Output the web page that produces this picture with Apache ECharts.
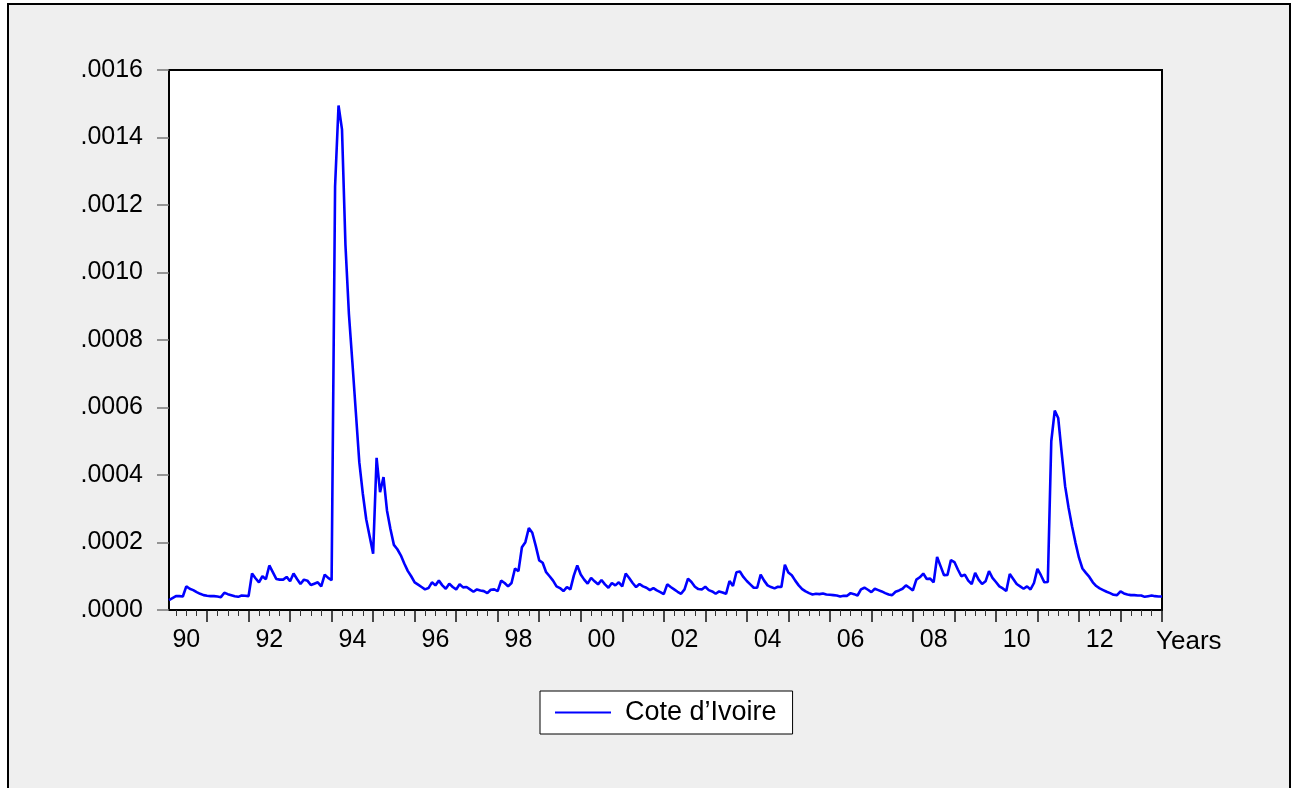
<!DOCTYPE html>
<html><head><meta charset="utf-8">
<script src="https://cdn.jsdelivr.net/npm/echarts@6/dist/echarts.min.js"></script>
<style>html,body{margin:0;padding:0;background:#fff}#c{width:1294px;height:788px}</style>
</head><body><div id="c"></div><script>
// Monthly series, 1990M02 .. 2014M01
const seriesName = 'Cote d\u2019Ivoire';
const startYear = 1990, startMonth = 2;
const values = [
  2.9e-5,3.5e-5,4.1e-5,4.1e-5,4.0e-5,7.0e-5,6.3e-5,5.9e-5,5.3e-5,4.8e-5,4.4e-5,4.2e-5,
  4.1e-5,4.1e-5,4.0e-5,3.8e-5,5.1e-5,4.7e-5,4.4e-5,4.1e-5,3.9e-5,4.3e-5,4.2e-5,4.1e-5,
  1.08e-4,9.4e-5,8.2e-5,1.0e-4,9.1e-5,1.32e-4,1.12e-4,9.2e-5,9.0e-5,9.0e-5,9.8e-5,8.5e-5,
  1.08e-4,9.2e-5,7.7e-5,9.0e-5,8.7e-5,7.4e-5,7.8e-5,8.2e-5,7.0e-5,1.05e-4,9.5e-5,8.8e-5,
  1.255e-3,1.495e-3,1.424e-3,1.081e-3,8.77e-4,7.34e-4,5.86e-4,4.38e-4,3.46e-4,2.69e-4,2.18e-4,1.67e-4,
  4.51e-4,3.49e-4,3.94e-4,2.95e-4,2.40e-4,1.93e-4,1.80e-4,1.62e-4,1.38e-4,1.16e-4,1.0e-4,8.2e-5,
  7.5e-5,6.8e-5,6.1e-5,6.5e-5,8.2e-5,7.3e-5,8.7e-5,7.3e-5,6.3e-5,7.8e-5,6.8e-5,6.1e-5,
  7.6e-5,6.7e-5,6.8e-5,6.1e-5,5.4e-5,6.1e-5,5.8e-5,5.6e-5,5.0e-5,6.0e-5,6.1e-5,5.6e-5,
  8.7e-5,8.0e-5,7.0e-5,8.0e-5,1.23e-4,1.15e-4,1.86e-4,2.01e-4,2.43e-4,2.29e-4,1.90e-4,1.47e-4,
  1.40e-4,1.12e-4,1.0e-4,8.7e-5,7.0e-5,6.5e-5,5.6e-5,6.8e-5,6.1e-5,1.02e-4,1.32e-4,1.05e-4,
  9.0e-5,7.8e-5,9.5e-5,8.5e-5,7.6e-5,8.9e-5,7.6e-5,6.6e-5,8.0e-5,7.3e-5,8.2e-5,7.0e-5,
  1.08e-4,9.5e-5,8.0e-5,6.8e-5,7.7e-5,7.0e-5,6.6e-5,5.9e-5,6.5e-5,5.8e-5,5.3e-5,4.7e-5,
  7.6e-5,6.8e-5,6.1e-5,5.4e-5,4.8e-5,6.1e-5,9.3e-5,8.3e-5,6.9e-5,6.2e-5,6.1e-5,6.9e-5,
  5.9e-5,5.5e-5,4.8e-5,5.5e-5,5.2e-5,4.8e-5,8.6e-5,7.1e-5,1.12e-4,1.14e-4,9.8e-5,8.6e-5,
  7.6e-5,6.6e-5,6.6e-5,1.05e-4,8.7e-5,7.3e-5,6.8e-5,6.4e-5,6.9e-5,6.8e-5,1.34e-4,1.11e-4,
  1.03e-4,8.7e-5,7.3e-5,6.2e-5,5.5e-5,5.0e-5,4.6e-5,4.8e-5,4.7e-5,4.9e-5,4.6e-5,4.5e-5,
  4.4e-5,4.3e-5,4.0e-5,4.2e-5,4.2e-5,5.0e-5,4.7e-5,4.3e-5,6.1e-5,6.6e-5,6.0e-5,5.3e-5,
  6.3e-5,5.9e-5,5.5e-5,5.0e-5,4.6e-5,4.4e-5,5.4e-5,5.8e-5,6.3e-5,7.3e-5,6.6e-5,5.8e-5,
  9.0e-5,9.7e-5,1.08e-4,9.2e-5,9.3e-5,8.2e-5,1.57e-4,1.30e-4,1.03e-4,1.04e-4,1.48e-4,1.42e-4,
  1.20e-4,1.0e-4,1.05e-4,8.7e-5,7.7e-5,1.10e-4,9.0e-5,7.7e-5,8.5e-5,1.15e-4,9.5e-5,8.3e-5,
  7.0e-5,6.4e-5,5.6e-5,1.07e-4,9.2e-5,7.7e-5,7.0e-5,6.3e-5,7.0e-5,6.1e-5,8.0e-5,1.22e-4,
  1.03e-4,8.2e-5,8.3e-5,5.0e-4,5.91e-4,5.69e-4,4.66e-4,3.67e-4,3.03e-4,2.48e-4,1.99e-4,1.55e-4,
  1.23e-4,1.10e-4,9.8e-5,8.2e-5,7.1e-5,6.4e-5,5.9e-5,5.4e-5,5.0e-5,4.5e-5,4.4e-5,5.5e-5,
  4.9e-5,4.6e-5,4.4e-5,4.4e-5,4.3e-5,4.3e-5,3.9e-5,4.1e-5,4.3e-5,4.1e-5,4.0e-5,4.0e-5
];
const yearLabels = ['90','92','94','96','98','00','02','04','06','08','10','12'];
const yLabelValues = [0, 0.0002, 0.0004, 0.0006, 0.0008, 0.0010, 0.0012, 0.0014, 0.0016];
const xAxisTitle = 'Years';

// month calendar for each observation
const months = values.map((v, i) => {
  const m0 = startMonth - 1 + i;
  return { year: startYear + Math.floor(m0 / 12), month: (m0 % 12) + 1 };
});
const majorTicks = [], minorTicks = [], labelPos = [];
months.forEach((d, i) => {
  if (d.month === 1) majorTicks.push(i);
  if (d.month === 4 || d.month === 7 || d.month === 10) minorTicks.push(i);
  if (d.month === 7 && yearLabels.indexOf(String(d.year).slice(-2)) >= 0) labelPos.push(i);
});
const labelText = {};
labelPos.forEach(i => { labelText[i] = String(months[i].year).slice(-2); });

const FONT = '"Liberation Sans", Arial, sans-serif';
const L = 169, T = 70, W = 993, H = 540;
const chart = echarts.init(document.getElementById('c'), null, { renderer: 'canvas' });
chart.setOption({
  animation: false,
  backgroundColor: '#ffffff',
  textStyle: { fontFamily: FONT },
  graphic: [
    { type: 'rect', z: -100, silent: true,
      shape: { x: 8, y: 4, width: 1282, height: 800 },
      style: { fill: '#efefef', stroke: '#000', lineWidth: 2 } },
    { type: 'text', left: 1156, top: 629, silent: true,
      style: { text: xAxisTitle, font: '26px ' + FONT, fill: '#000' } }
  ],
  grid: { left: L, top: T, width: W, height: H, show: true, backgroundColor: '#fff',
          borderColor: '#000', borderWidth: 2, containLabel: false },
  legend: {
    left: 540, top: 691, backgroundColor: '#fff', borderColor: '#000', borderWidth: 1,
    padding: [8, 16, 8, 15], itemWidth: 56, itemHeight: 2, icon: 'rect',
    data: [seriesName],
    formatter: n => '{t|' + n + '}',
    textStyle: { rich: { t: { fontFamily: FONT, fontSize: 27, color: '#000', padding: [0, 0, 0, 9], lineHeight: 26 } } }
  },
  xAxis: [
    { type: 'value', min: 0, max: values.length - 1, position: 'bottom',
      axisLine: { show: false }, splitLine: { show: false },
      axisTick: { show: true, customValues: majorTicks, length: 12, inside: false, lineStyle: { color: '#111', width: 1.5 } },
      axisLabel: { show: true, customValues: labelPos, formatter: v => labelText[v] || '',
                   fontFamily: FONT, fontSize: 25, color: '#000', margin: 18 } },
    { type: 'value', min: 0, max: values.length - 1, position: 'bottom',
      axisLine: { show: false }, splitLine: { show: false },
      axisTick: { show: true, customValues: minorTicks, length: 6, inside: false, lineStyle: { color: '#333', width: 1 } },
      axisLabel: { show: false } }
  ],
  yAxis: {
    type: 'value', min: 0, max: 0.0016, interval: 0.0002,
    axisLine: { show: false }, splitLine: { show: false },
    axisTick: { show: true, length: 12, lineStyle: { color: '#777', width: 1.5 } },
    axisLabel: { customValues: yLabelValues, fontFamily: FONT, fontSize: 25, color: '#000', margin: 26,
                 formatter: v => v.toFixed(4).replace(/^0/, '') }
  },
  series: [{
    name: seriesName, type: 'line', xAxisIndex: 0, yAxisIndex: 0,
    data: values.map((v, i) => [i, v]),
    symbol: 'none', showSymbol: false,
    lineStyle: { color: '#0000ff', width: 2.6 }, itemStyle: { color: '#0000ff' }
  }]
});
</script></body></html>
